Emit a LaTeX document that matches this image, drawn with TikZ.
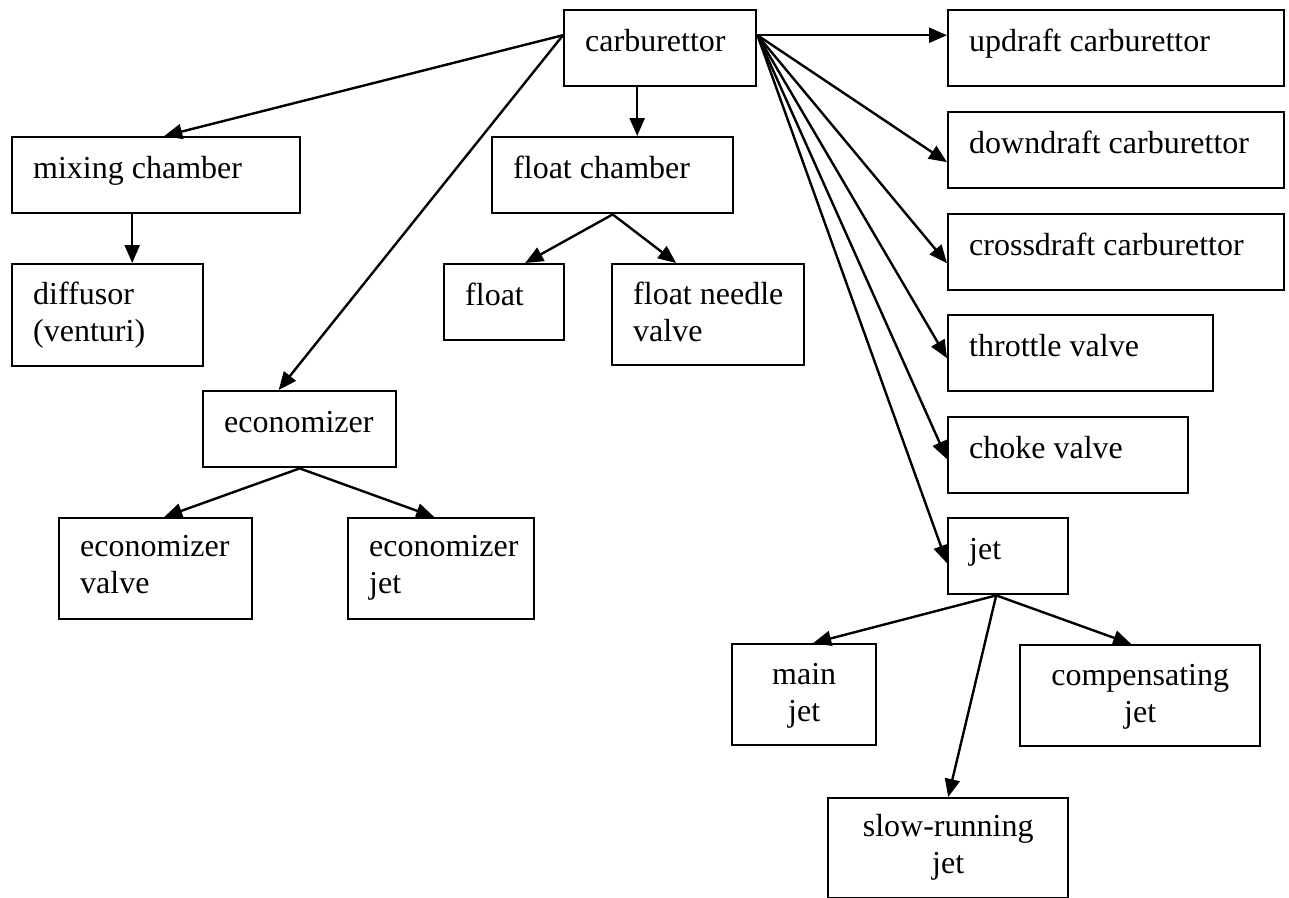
\documentclass[tikz,border=0pt]{standalone}
\usepackage{fontspec}
\setmainfont{Liberation Serif}
\usetikzlibrary{arrows.meta}

\begin{document}
\begin{tikzpicture}
[x=1pt,y=-1pt,%
  every node/.style={draw,line width=2.4pt,anchor=north west,inner xsep=21pt,inner ysep=0pt,
    text height=41pt,text depth=35pt,align=flush left,font=\fontsize{32}{37}\selectfont},%
  tall/.style={text height=40pt,text depth=61pt},%
  link/.style={-{Triangle[length=18pt,width=15pt]},line width=2.4pt}]
\useasboundingbox (0,0) rectangle (1289,897);
% root
\node[text width=150pt] (carb) at (563,9) {carburettor};
% left side
\node[text width=246pt] (mix) at (11,136) {mixing chamber};
\node[text width=149pt,tall,text depth=62pt] (diff) at (11,263) {diffusor\\(venturi)};
\node[text width=199pt] (fch) at (491,136) {float chamber};
\node[text width=78pt] (float) at (443,263) {float};
\node[text width=150pt,tall] (fnv) at (611,263) {\mbox{float needle}\\valve};
\node[text width=151pt] (econ) at (202,390) {economizer};
\node[text width=151pt,text height=38pt,text depth=63pt] (ev) at (58,517) {economizer\\valve};
\node[text width=144pt,text height=38pt,text depth=63pt] (ej) at (347,517) {economizer\\jet};
% right side
\node[text width=294pt] (up) at (947,9) {updraft carburettor};
\node[text width=294pt] (down) at (947,111) {downdraft carburettor};
\node[text width=294pt] (cross) at (947,213) {crossdraft carburettor};
\node[text width=223pt] (thr) at (947,314) {throttle valve};
\node[text width=198pt] (choke) at (947,416) {choke valve};
\node[text width=78pt] (jet) at (947,517) {jet};
\node[text width=102pt,tall,align=flush center] (mainjet) at (731,643) {main\\jet};
\node[text width=198pt,tall,align=flush center] (comp) at (1019,644) {compensating\\jet};
\node[text width=198pt,text height=38pt,text depth=62pt,align=flush center] (slow) at (827,797) {slow-running\\jet};

\draw[link] ([yshift=13pt]carb.west) -- ([xshift=8pt]mix.north);
\draw[link] ([yshift=13pt]carb.west) -- ([xshift=-21pt]econ.north);
\draw[link] ([xshift=-23pt]carb.south) -- ([xshift=24.5pt]fch.north);
\draw[link] ([yshift=13pt]carb.east) -- ([yshift=13pt]up.west);
\draw[link] ([yshift=13pt]carb.east) -- ([yshift=-12pt]down.west);
\draw[link] ([yshift=13pt]carb.east) -- ([yshift=-11pt]cross.west);
\draw[link] ([yshift=13pt]carb.east) -- ([yshift=-5pt]thr.west);
\draw[link] ([yshift=13pt]carb.east) -- ([yshift=-4pt]choke.west);
\draw[link] ([yshift=13pt]carb.east) -- ([yshift=-7pt]jet.west);
\draw[link] ([xshift=-24pt]mix.south) -- ([xshift=24.5pt]diff.north);
\draw[link] (fch.south) -- ([xshift=21pt]float.north);
\draw[link] (fch.south) -- ([xshift=-32pt]fnv.north);
\draw[link] (econ.south) -- ([xshift=8.5pt]ev.north);
\draw[link] (econ.south) -- ([xshift=-7pt]ej.north);
\draw[link] ([xshift=-12pt]jet.south) -- ([xshift=9pt]mainjet.north);
\draw[link] ([xshift=-12pt]jet.south) -- (slow.north);
\draw[link] ([xshift=-12pt]jet.south) -- ([xshift=-9pt]comp.north);
\end{tikzpicture}
\end{document}
